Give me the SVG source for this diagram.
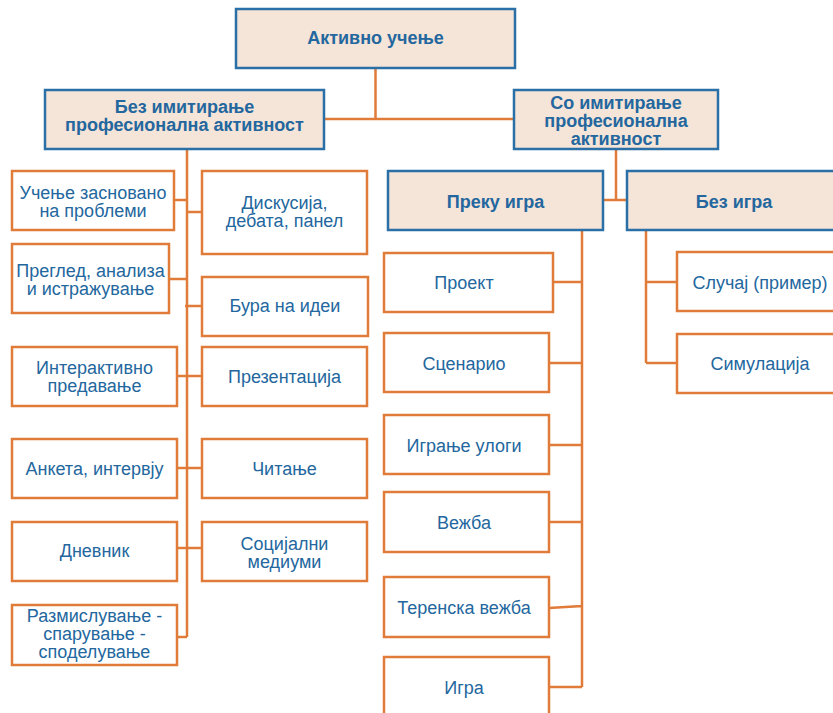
<svg xmlns="http://www.w3.org/2000/svg" width="833" height="713" viewBox="0 0 833 713">
<style>
.hdr{fill:#f5e4d8;stroke:#2a6fa5;stroke-width:2.5}
.box{fill:#ffffff;stroke:#e07b39;stroke-width:2.5}
.ln{fill:none;stroke:#e07b39;stroke-width:2.5}
text{font-family:"Liberation Sans",Arial,sans-serif;fill:#23679e;text-anchor:middle;font-size:18px}
.b{font-weight:bold}
</style>
<rect width="833" height="713" fill="#ffffff"/>
<g id="connectors">
<path class="ln" d="M375.5 68 V119 M324 119 H514"/>
<path class="ln" d="M616 149 V200 M603 200 H627"/>
<path class="ln" d="M187 149 V637 M174 200 H187 M187 212 H202 M169 279 H187 M185 306 H202 M177 376 H202 M177 468 H202 M177 548 H202 M177 637 H187"/>
<path class="ln" d="M582 230 V687 M553 282 H582 M549 363 H582 M549 445 H582 M549 522 H582 M549 608 L582 606 M549 687 H582"/>
<path class="ln" d="M646 230 V363 M646 282 H677 M646 363 H677"/>
</g>
<g id="n-root"><rect class="hdr" x="236" y="9" width="279" height="59"/><text class="b" x="375.5" y="44">Активно учење</text></g>
<g id="n-bez"><rect class="hdr" x="45" y="90" width="279" height="59"/><text class="b" x="184.5" y="113">Без имитирање</text><text class="b" x="184.5" y="131">професионална активност</text></g>
<g id="n-so"><rect class="hdr" x="514" y="90" width="204" height="59"/><text class="b" x="616" y="109">Со имитирање</text><text class="b" x="616" y="127">професионална</text><text class="b" x="616" y="145">активност</text></g>
<g id="n-preku"><rect class="hdr" x="388" y="171" width="215" height="59"/><text class="b" x="495.5" y="208">Преку игра</text></g>
<g id="n-bezigra"><rect class="hdr" x="627" y="171" width="210" height="59"/><text class="b" x="734" y="208">Без игра</text></g>

<g id="n-l1"><rect class="box" x="12" y="171" width="162" height="59"/><text x="93" y="199">Учење засновано</text><text x="93" y="217">на проблеми</text></g>
<g id="n-r1"><rect class="box" x="202" y="171" width="165" height="83"/><text x="284.5" y="209">Дискусија,</text><text x="284.5" y="227">дебата, панел</text></g>
<g id="n-l2"><rect class="box" x="12" y="244" width="157" height="69"/><text x="90.5" y="277">Преглед, анализа</text><text x="90.5" y="295">и истражување</text></g>
<g id="n-r2"><rect class="box" x="202" y="277" width="166" height="59"/><text x="285" y="312">Бура на идеи</text></g>
<g id="n-l3"><rect class="box" x="12" y="347" width="165" height="59"/><text x="94.5" y="374">Интерактивно</text><text x="94.5" y="392">предавање</text></g>
<g id="n-r3"><rect class="box" x="202" y="347" width="165" height="59"/><text x="284.5" y="383">Презентација</text></g>
<g id="n-l4"><rect class="box" x="12" y="439" width="165" height="59"/><text x="94.5" y="475">Анкета, интервју</text></g>
<g id="n-r4"><rect class="box" x="202" y="439" width="165" height="59"/><text x="284.5" y="475">Читање</text></g>
<g id="n-l5"><rect class="box" x="12" y="522" width="165" height="59"/><text x="94.5" y="557">Дневник</text></g>
<g id="n-r5"><rect class="box" x="202" y="522" width="165" height="59"/><text x="284.5" y="550">Социјални</text><text x="284.5" y="568">медиуми</text></g>
<g id="n-l6"><rect class="box" x="12" y="605" width="165" height="60"/><text x="94.5" y="622">Размислување -</text><text x="94.5" y="640">спарување -</text><text x="94.5" y="658">споделување</text></g>

<g id="n-p1"><rect class="box" x="384" y="253" width="169" height="59"/><text x="464" y="289">Проект</text></g>
<g id="n-p2"><rect class="box" x="384" y="333" width="165" height="59"/><text x="464" y="370">Сценарио</text></g>
<g id="n-p3"><rect class="box" x="384" y="415" width="165" height="59"/><text x="464" y="452">Играње улоги</text></g>
<g id="n-p4"><rect class="box" x="384" y="492" width="165" height="60"/><text x="464" y="529">Вежба</text></g>
<g id="n-p5"><rect class="box" x="384" y="577" width="165" height="60"/><text x="464" y="614">Теренска вежба</text></g>
<g id="n-p6"><rect class="box" x="384" y="657" width="165" height="59"/><text x="464" y="694">Игра</text></g>

<g id="n-b1"><rect class="box" x="677" y="252" width="170" height="59"/><text x="760" y="289">Случај (пример)</text></g>
<g id="n-b2"><rect class="box" x="677" y="334" width="170" height="59"/><text x="760" y="370">Симулација</text></g>
</svg>
